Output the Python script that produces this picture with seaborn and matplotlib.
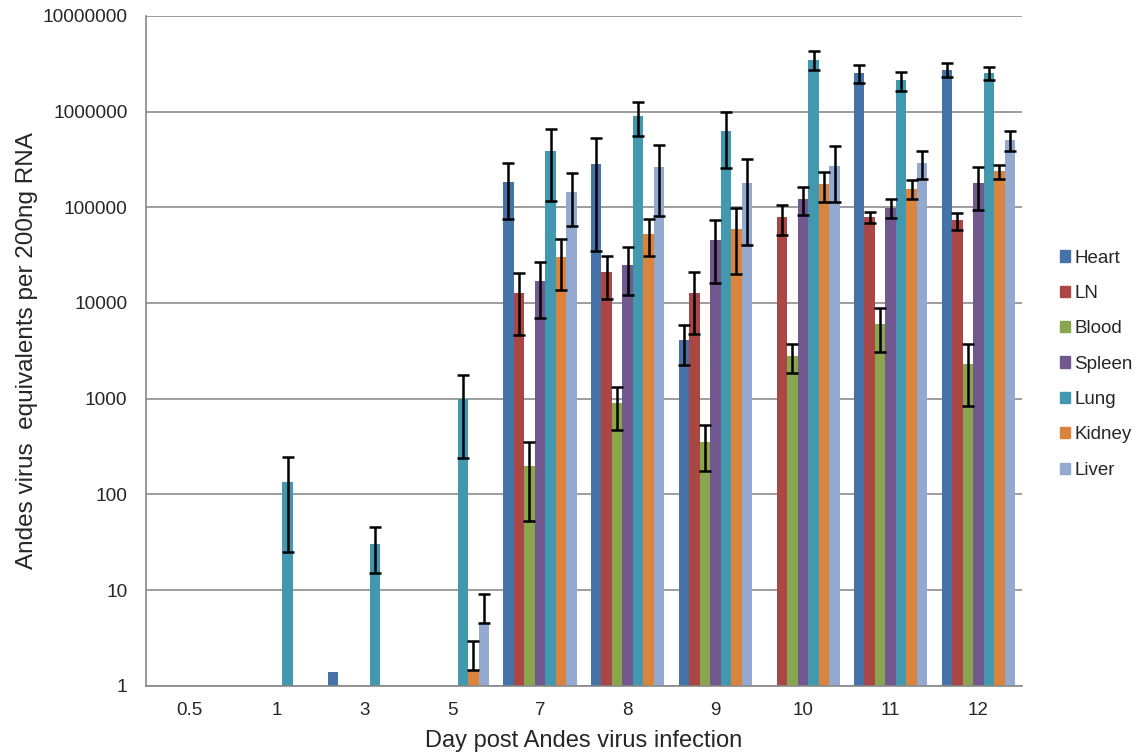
import numpy as np
import pandas as pd
import matplotlib
matplotlib.use("Agg")
import matplotlib.pyplot as plt
from matplotlib.ticker import FuncFormatter, NullLocator
import seaborn as sns

days = ["0.5", "1", "3", "5", "7", "8", "9", "10", "11", "12"]
organs = ["Heart", "LN", "Blood", "Spleen", "Lung", "Kidney", "Liver"]
colors = ["#4572A7", "#AA4643", "#89A54E", "#71588F", "#4198AF", "#DB843D", "#93A9CF"]

# mean values per organ (0 = no bar)
heart = [0, 0, 1.4, 0, 182000, 280000, 4070, 0, 2520000, 2740000]
ln = [0, 0, 0, 0, 12600, 21000, 12800, 78700, 78700, 73000]
blood = [0, 0, 0, 0, 200, 890, 355, 2760, 5960, 2290]
spleen = [0, 0, 0, 0, 17000, 25000, 45000, 123000, 99000, 178000]
lung = [0, 135, 30, 1000, 388000, 900000, 620000, 3500000, 2140000, 2520000]
kidney = [0, 0, 0, 1.45, 30000, 53000, 59000, 174000, 157000, 237000]
liver = [0, 0, 0, 4.5, 145000, 263000, 178000, 273000, 291000, 502000]

# standard deviations (nan = no error bar)
nan = np.nan
heart_sd = [nan, nan, nan, nan, 106000, 245000, 1850, nan, 550000, 460000]
ln_sd = [nan, nan, nan, nan, 8000, 10000, 8100, 27000, 11000, 14500]
blood_sd = [nan, nan, nan, nan, 148, 420, 180, 920, 2900, 1450]
spleen_sd = [nan, nan, nan, nan, 10000, 13000, 29000, 40000, 22000, 84000]
lung_sd = [nan, 110, 15, 760, 272000, 345000, 360000, 800000, 480000, 400000]
kidney_sd = [nan, nan, nan, 1.5, 16500, 22000, 39000, 60000, 36000, 38000]
liver_sd = [nan, nan, nan, 4.6, 82000, 182000, 138000, 160000, 95000, 118000]

means = [heart, ln, blood, spleen, lung, kidney, liver]
sds = [heart_sd, ln_sd, blood_sd, spleen_sd, lung_sd, kidney_sd, liver_sd]

df = pd.DataFrame({
    "Day": days * len(organs),
    "Organ": np.repeat(organs, len(days)),
    "Value": np.concatenate(means),
})

sns.set_style("white")
plt.rcParams["font.family"] = ["Liberation Sans", "DejaVu Sans"]

fig, ax = plt.subplots(figsize=(11.37, 7.56), dpi=100)
fig.subplots_adjust(left=0.128, right=0.899, top=0.979, bottom=0.093)

sns.barplot(data=df, x="Day", y="Value", hue="Organ", order=days, hue_order=organs,
            palette=colors, errorbar=None, width=0.84, gap=0, saturation=1,
            linewidth=0, ax=ax)
ax.set_yscale("log")

for cont, m, s in zip(ax.containers, means, sds):
    xs = np.array([b.get_x() + b.get_width() / 2 for b in cont])
    m = np.array(m, dtype=float)
    s = np.array(s, dtype=float)
    ok = ~np.isnan(s)
    lower = np.where(m - s > 0, s, 0)
    ax.errorbar(xs[ok], m[ok], yerr=[lower[ok], s[ok]], fmt="none", ecolor="black",
                elinewidth=1.8, capsize=4.5, capthick=1.8, zorder=3)

ax.set_ylim(1, 1e7)
ax.set_xlim(-0.5, 9.5)
ax.set_yticks([10 ** i for i in range(8)])
ax.yaxis.set_major_formatter(FuncFormatter(lambda v, _: f"{int(round(v))}"))
ax.yaxis.set_minor_locator(NullLocator())
ax.set_xticks(range(len(days)))
ax.set_xticklabels(days)
ax.set_xticks(np.arange(-0.5, len(days), 1), minor=True)
ax.tick_params(axis="x", which="major", length=0, labelsize=13.5, pad=12)
ax.tick_params(axis="x", which="minor", length=5, color="#888888", width=1.2)
ax.tick_params(axis="y", which="major", length=5, color="#888888", width=1.2,
               labelsize=13.8, pad=8)

ax.yaxis.grid(True, color="#8c8c8c", linewidth=1.2)
ax.set_axisbelow(True)
for side in ["top", "right"]:
    ax.spines[side].set_visible(False)
for side in ["left", "bottom"]:
    ax.spines[side].set_color("#888888")
    ax.spines[side].set_linewidth(1.2)

ax.set_xlabel("Day post Andes virus infection", fontsize=17, labelpad=8)
ax.set_ylabel("Andes virus  equivalents per 200ng RNA", fontsize=17.5, labelpad=3)

handles = [plt.Rectangle((0, 0), 1, 1, color=c) for c in colors]
ax.legend(handles, organs, loc="center left", bbox_to_anchor=(1.024, 0.48), frameon=False,
          fontsize=13.5, handlelength=0.55, handleheight=0.55, handletextpad=0.2,
          labelspacing=0.98)

plt.savefig("out.png", dpi=100)
